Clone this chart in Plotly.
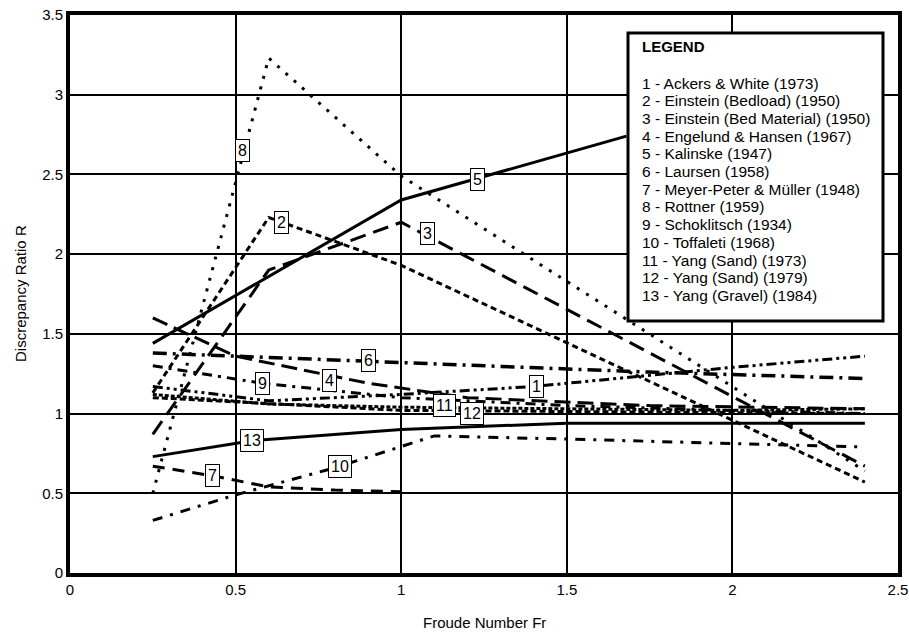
import plotly.graph_objects as go

# Discrepancy ratio R against Froude number Fr for 13 sediment transport formulas
names = [
    "Ackers & White (1973)",
    "Einstein (Bedload) (1950)",
    "Einstein (Bed Material) (1950)",
    "Engelund & Hansen (1967)",
    "Kalinske (1947)",
    "Laursen (1958)",
    "Meyer-Peter & Müller (1948)",
    "Rottner (1959)",
    "Schoklitsch (1934)",
    "Toffaleti (1968)",
    "Yang (Sand) (1973)",
    "Yang (Sand) (1979)",
    "Yang (Gravel) (1984)",
]

fr_1 = [0.25, 0.6, 1.0, 1.4, 1.75, 2.0, 2.4]
r_1 = [1.17, 1.08, 1.12, 1.17, 1.24, 1.29, 1.36]
fr_2 = [0.25, 0.6, 1.0, 2.4]
r_2 = [1.13, 2.23, 1.93, 0.57]
fr_3 = [0.25, 0.6, 1.0, 2.4]
r_3 = [0.87, 1.9, 2.2, 0.67]
fr_4 = [0.25, 0.5, 0.9, 1.2, 1.75, 2.4]
r_4 = [1.6, 1.36, 1.19, 1.1, 1.05, 1.03]
fr_5 = [0.25, 1.0, 1.68]
r_5 = [1.44, 2.34, 2.74]
fr_6 = [0.25, 1.0, 1.75, 2.4]
r_6 = [1.38, 1.32, 1.26, 1.22]
fr_7 = [0.25, 0.43, 0.6, 0.8, 1.0]
r_7 = [0.67, 0.61, 0.54, 0.52, 0.51]
fr_8 = [0.25, 0.6, 1.0, 2.4]
r_8 = [0.5, 3.23, 2.49, 0.64]
fr_9 = [0.25, 0.58, 1.0, 1.5, 2.0, 2.4]
r_9 = [1.3, 1.19, 1.1, 1.05, 1.02, 1.0]
fr_10 = [0.25, 0.5, 0.8, 1.1, 1.5, 2.0, 2.4]
r_10 = [0.33, 0.49, 0.66, 0.86, 0.84, 0.81, 0.79]
fr_11 = [0.25, 0.6, 1.0, 1.5, 2.0, 2.4]
r_11 = [1.12, 1.06, 1.04, 1.03, 1.02, 1.03]
fr_12 = [0.25, 1.0, 2.4]
r_12 = [1.1, 1.02, 1.0]
fr_13 = [0.25, 0.55, 1.0, 1.5, 2.4]
r_13 = [0.73, 0.83, 0.9, 0.94, 0.94]

# number tags placed along each curve (Fr, R)
tag_fr = [1.41, 0.64, 1.08, 0.785, 1.23, 0.90, 0.43, 0.52, 0.58, 0.815, 1.13, 1.215, 0.55]
tag_r = [1.17, 2.20, 2.13, 1.21, 2.47, 1.33, 0.61, 2.65, 1.19, 0.67, 1.05, 1.00, 0.83]

x_ticks = [0, 0.5, 1, 1.5, 2, 2.5]
y_ticks = [0, 0.5, 1, 1.5, 2, 2.5, 3, 3.5]

series_fr = [fr_1, fr_2, fr_3, fr_4, fr_5, fr_6, fr_7, fr_8, fr_9, fr_10, fr_11, fr_12, fr_13]
series_r = [r_1, r_2, r_3, r_4, r_5, r_6, r_7, r_8, r_9, r_10, r_11, r_12, r_13]

dashes = [
    "10px,4px,3px,4px,3px,4px",  # 1 dash-dot-dot
    "6px,4px",                   # 2 short dash
    "16px,8px",                  # 3 long dash
    "16px,7px",                  # 4 dash
    "solid",                     # 5
    "14px,6px,3px,6px",          # 6 dash-dot
    "12px,8px",                  # 7 long dash
    "3px,8px",                   # 8 dotted
    "10px,6px,3px,6px",          # 9 dash-dot
    "10px,8px,3px,8px",          # 10 dash-dot
    "4px,2px",                   # 11 fine dash
    "6px,3px",                   # 12 dash
    "solid",                     # 13
]
widths = [3, 3, 3, 3, 3, 3.5, 3, 3, 3, 3, 3, 3, 3]

FONT = "Liberation Sans, Arial, sans-serif"

fig = go.Figure()
for i in range(13):
    fig.add_trace(go.Scatter(
        x=series_fr[i], y=series_r[i], mode="lines", name=f"{i + 1} - {names[i]}",
        line=dict(color="black", width=widths[i], dash=dashes[i]),
        showlegend=False, hoverinfo="skip",
    ))

# numbered tags on the curves
for i in range(13):
    fig.add_annotation(
        x=tag_fr[i], y=tag_r[i], xref="x", yref="y", text=str(i + 1),
        showarrow=False, bgcolor="white", bordercolor="black", borderwidth=1,
        borderpad=2, font=dict(family=FONT, size=16, color="black"),
    )

# plot area spans 70..898 px horizontally, 15..573 px vertically
def px_x(p):
    return (p - 70) / 828.0

def px_y(p):
    return (573 - p) / 558.0

# legend panel
fig.add_shape(
    type="rect", xref="paper", yref="paper",
    x0=px_x(628), x1=px_x(883), y0=px_y(321), y1=px_y(33),
    fillcolor="white", line=dict(color="black", width=3), layer="above",
)
fig.add_annotation(
    xref="paper", yref="paper", x=px_x(640), y=px_y(47), xanchor="left", yanchor="middle",
    text="<b>LEGEND</b>", showarrow=False, font=dict(family=FONT, size=15, color="black"),
)
for i in range(13):
    fig.add_annotation(
        xref="paper", yref="paper", x=px_x(640), y=px_y(83 + 17.7 * i),
        xanchor="left", yanchor="middle", text=f"{i + 1} - {names[i]}",
        showarrow=False, font=dict(family=FONT, size=15.5, color="black"),
    )

# axis titles
fig.add_annotation(
    xref="paper", yref="paper", x=0.5, y=px_y(622), xanchor="center", yanchor="middle",
    text="Froude Number Fr", showarrow=False, font=dict(family=FONT, size=15, color="black"),
)
fig.add_annotation(
    xref="paper", yref="paper", x=px_x(20), y=0.5, xanchor="center", yanchor="middle",
    text="Discrepancy Ratio R", textangle=-90, showarrow=False,
    font=dict(family=FONT, size=15, color="black"),
)

fig.update_layout(
    width=909, height=635,
    margin=dict(l=70, r=11, t=15, b=62),
    paper_bgcolor="white", plot_bgcolor="white",
    font=dict(family=FONT, size=14, color="black"),
    xaxis=dict(
        range=[0, 2.5], tickvals=x_ticks, ticktext=[f"{v:g}" for v in x_ticks],
        showgrid=True, gridcolor="black", gridwidth=2, zeroline=False,
        showline=True, linecolor="black", linewidth=4, mirror=True, ticks="",
        tickfont=dict(family=FONT, size=15), automargin=False,
    ),
    yaxis=dict(
        range=[0, 3.5], tickvals=y_ticks, ticktext=[f"{v:g}" for v in y_ticks],
        showgrid=True, gridcolor="black", gridwidth=2, zeroline=False,
        showline=True, linecolor="black", linewidth=4, mirror=True, ticks="",
        tickfont=dict(family=FONT, size=15), automargin=False,
    ),
)

fig.write_html("out.html")
